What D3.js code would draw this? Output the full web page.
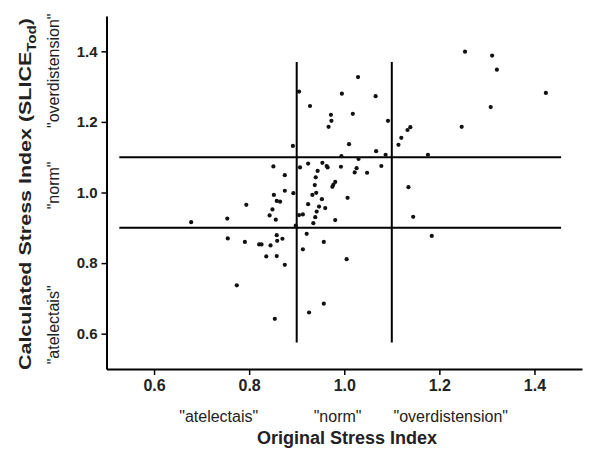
<!DOCTYPE html>
<html>
<head>
<meta charset="utf-8">
<script src="https://cdn.jsdelivr.net/npm/d3@7"></script>
<style>
  body { margin: 0; background: #fff; }
  svg { display: block; font-family: "Liberation Sans", Arial, sans-serif; }
</style>
</head>
<body>
<div class="stress-chart"></div>
<script>
// x = original stress index, y = calculated stress index (same order)
var originalIndex = [
  1.066, 1.254, 1.311, 1.321, 1.424, 1.308, 1.247, 1.092, 1.139, 1.133,
  1.120, 1.114, 1.067, 1.087, 1.176, 1.078, 1.048, 1.135, 1.145, 1.184,
  0.905, 1.029, 0.995, 0.928, 0.972, 0.973, 0.967, 1.018, 0.892, 1.010,
  0.994, 1.030, 0.875, 0.907, 0.924, 0.954, 0.963, 0.965, 0.993, 1.026,
  1.022, 0.944, 0.940, 0.875, 0.893, 0.938, 0.975, 0.977, 0.981, 0.941,
  0.933, 0.953, 1.007, 0.924, 0.947, 0.960, 0.942, 0.913, 0.905, 0.939,
  0.981, 0.935, 0.898, 0.921,
  0.851, 0.852, 0.858, 0.865, 0.794, 0.849, 0.843, 0.856, 0.678, 0.754,
  0.755, 0.791, 0.821, 0.826, 0.845, 0.858, 0.859, 0.870, 0.836, 0.858,
  0.875, 0.957, 0.913, 1.005, 0.774, 0.957, 0.926, 0.854
];
var calculatedIndex = [
  1.273, 1.399, 1.388, 1.348, 1.282, 1.242, 1.186, 1.203, 1.185, 1.177,
  1.155, 1.135, 1.117, 1.107, 1.107, 1.075, 1.056, 1.015, 0.931, 0.877,
  1.286, 1.327, 1.280, 1.245, 1.220, 1.203, 1.186, 1.223, 1.132, 1.137,
  1.103, 1.095, 1.049, 1.071, 1.082, 1.084, 1.075, 1.071, 1.073, 1.069,
  1.057, 1.061, 1.043, 1.005, 0.998, 1.021, 1.016, 1.022, 1.030, 0.999,
  0.993, 0.981, 0.985, 0.967, 0.960, 0.956, 0.946, 0.938, 0.936, 0.930,
  0.922, 0.913, 0.906, 0.883,
  1.074, 0.993, 0.976, 0.974, 0.965, 0.952, 0.935, 0.923, 0.916, 0.926,
  0.870, 0.860, 0.853, 0.853, 0.850, 0.879, 0.863, 0.869, 0.819, 0.820,
  0.795, 0.860, 0.839, 0.811, 0.737, 0.685, 0.660, 0.642
];

var xTicks = [0.6, 0.8, 1.0, 1.2, 1.4];
var yTicks = [0.6, 0.8, 1.0, 1.2, 1.4];
var categories = ['"atelectais"', '"norm"', '"overdistension"'];
var categoryCenters = [0.736, 0.986, 1.224];   // along x
var categoryCentersY = [0.625, 1.02, 1.345];   // along y
var cutoffs = [0.9, 1.1];
var cutoffSpanX = [0.527, 1.456];
var cutoffSpanY = [0.575, 1.37];

var width = 600,
    height = 458,
    margin = {top: 16, right: 18, bottom: 89, left: 106.5};

var svg = d3.select("div.stress-chart").append("svg")
    .attr("width", width)
    .attr("height", height);

var x = d3.scaleLinear()
    .domain([0.5, 1.5])
    .range([margin.left, width - margin.right]);

var y = d3.scaleLinear()
    .domain([0.5, 1.5])
    .range([height - margin.bottom, margin.top]);

var points = d3.zip(originalIndex, calculatedIndex);

// axes
var xAxis = svg.append("g")
    .attr("transform", "translate(0," + y(0.5) + ")")
    .call(d3.axisBottom(x).tickValues(xTicks).tickFormat(d3.format(".1f"))
      .tickSize(6).tickSizeOuter(0).tickPadding(5));

var yAxis = svg.append("g")
    .attr("transform", "translate(" + x(0.5) + ",0)")
    .call(d3.axisLeft(y).tickValues(yTicks).tickFormat(d3.format(".1f"))
      .tickSize(5).tickSizeOuter(0).tickPadding(4));

[xAxis, yAxis].forEach(function(ax) {
  ax.select(".domain").attr("stroke", "#000").attr("stroke-width", 2);
  ax.selectAll(".tick line").attr("stroke", "#000").attr("stroke-width", 1.5);
  ax.selectAll(".tick text")
    .attr("fill", "#222")
    .style("font-family", "'Liberation Sans', Arial, sans-serif")
    .style("font-weight", "bold");
});
xAxis.selectAll(".tick text").style("font-size", "16px");
yAxis.selectAll(".tick text").style("font-size", "15px");

// cutoff lines
svg.selectAll(".hline")
    .data(cutoffs)
  .enter().append("line")
    .attr("class", "hline")
    .attr("x1", x(cutoffSpanX[0]))
    .attr("x2", x(cutoffSpanX[1]))
    .attr("y1", function(d) { return y(d); })
    .attr("y2", function(d) { return y(d); })
    .attr("stroke", "#000")
    .attr("stroke-width", 2);

svg.selectAll(".vline")
    .data(cutoffs)
  .enter().append("line")
    .attr("class", "vline")
    .attr("x1", function(d) { return x(d); })
    .attr("x2", function(d) { return x(d); })
    .attr("y1", y(cutoffSpanY[0]))
    .attr("y2", y(cutoffSpanY[1]))
    .attr("stroke", "#000")
    .attr("stroke-width", 2);

// points
svg.selectAll(".dot")
    .data(points)
  .enter().append("circle")
    .attr("class", "dot")
    .attr("r", 2.1)
    .attr("cx", function(d) { return x(d[0]); })
    .attr("cy", function(d) { return y(d[1]); })
    .attr("fill", "#111");

// category labels along x
svg.selectAll(".xcat")
    .data(categories)
  .enter().append("text")
    .attr("class", "xcat")
    .attr("x", function(d, i) { return x(categoryCenters[i]); })
    .attr("y", 422)
    .attr("text-anchor", "middle")
    .attr("fill", "#222")
    .style("font-size", "16px")
    .text(function(d) { return d; });

svg.append("text")
    .attr("x", 347)
    .attr("y", 444)
    .attr("text-anchor", "middle")
    .attr("fill", "#222")
    .style("font-size", "18px")
    .style("font-weight", "bold")
    .text("Original Stress Index");

// category labels along y
svg.selectAll(".ycat")
    .data(categories)
  .enter().append("text")
    .attr("class", "ycat")
    .attr("transform", function(d, i) {
      return "translate(59," + y(categoryCentersY[i]) + ") rotate(-90)";
    })
    .attr("text-anchor", "middle")
    .attr("fill", "#222")
    .style("font-size", "16px")
    .text(function(d) { return d; });

var yTitle = svg.append("text")
    .attr("transform", "translate(31,194) rotate(-90)")
    .attr("text-anchor", "middle")
    .attr("fill", "#222")
    .attr("textLength", 352)
    .attr("lengthAdjust", "spacingAndGlyphs")
    .style("font-size", "17px")
    .style("font-weight", "bold");

yTitle.append("tspan").text("Calculated Stress Index (SLICE");
yTitle.append("tspan")
    .attr("dy", 5)
    .style("font-size", "12px")
    .text("Tod");
yTitle.append("tspan")
    .attr("dy", -5)
    .text(")");
</script>
</body>
</html>
